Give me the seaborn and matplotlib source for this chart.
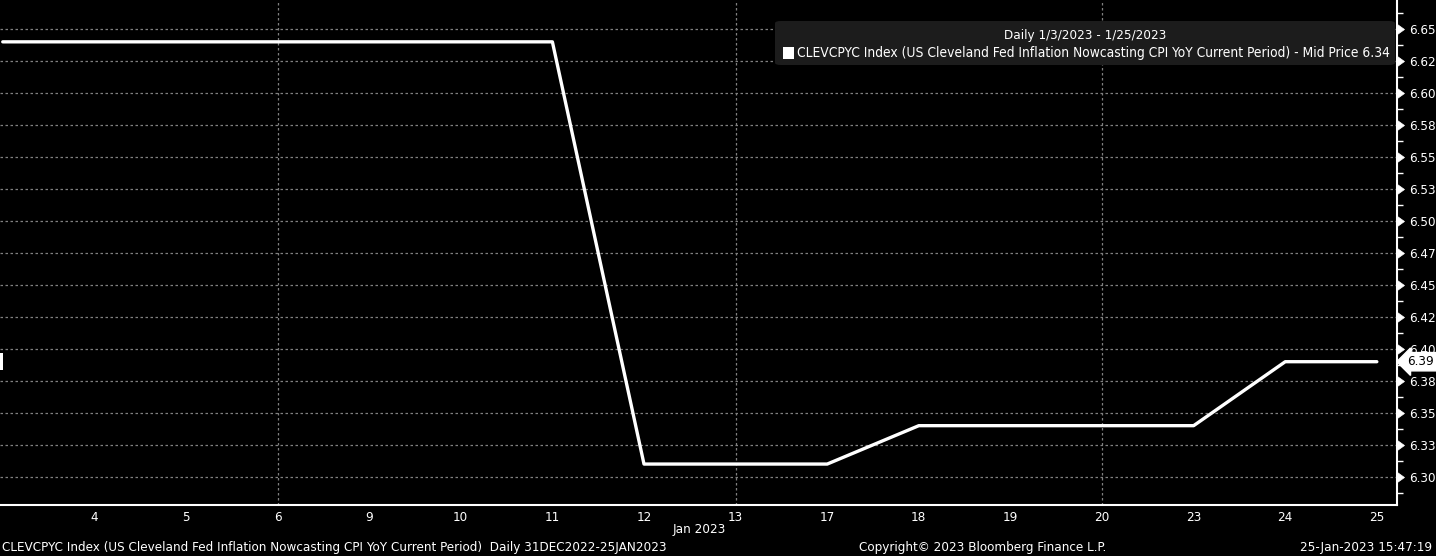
import matplotlib
matplotlib.use("Agg")
import matplotlib.pyplot as plt
import matplotlib.transforms as mtransforms
import seaborn as sns
import pandas as pd
from matplotlib.patches import FancyBboxPatch, Rectangle
from matplotlib.font_manager import fontManager
from matplotlib.markers import CARETRIGHTBASE

days = ["3", "4", "5", "6", "9", "10", "11", "12", "13", "17", "18", "19", "20", "23", "24", "25"]
values = [6.64, 6.64, 6.64, 6.64, 6.64, 6.64, 6.64, 6.31, 6.31, 6.31, 6.34, 6.34, 6.34, 6.34, 6.39, 6.39]
ytick_vals = [6.30, 6.325, 6.35, 6.375, 6.40, 6.425, 6.45, 6.475, 6.50, 6.525, 6.55, 6.575, 6.60, 6.625, 6.65]
ytick_labels = ["6.30", "6.33", "6.35", "6.38", "6.40", "6.42", "6.45", "6.47", "6.50", "6.53", "6.55", "6.58", "6.60", "6.62", "6.65"]
grid_days = ["6", "13", "20"]

footer_left = "CLEVCPYC Index (US Cleveland Fed Inflation Nowcasting CPI YoY Current Period)  Daily 31DEC2022-25JAN2023"
legend_txt = "CLEVCPYC Index (US Cleveland Fed Inflation Nowcasting CPI YoY Current Period) - Mid Price 6.34"

sns.set_theme(style="dark")
fnames = [f.fname for f in fontManager.ttflist]
names = {f.name for f in fontManager.ttflist}
if "Liberation Sans Narrow" in names:
    plt.rcParams["font.family"] = ["Liberation Sans Narrow", "DejaVu Sans"]
else:
    plt.rcParams["font.family"] = ["DejaVu Sans"]
    if any("Condensed" in f for f in fnames):
        plt.rcParams["font.stretch"] = "condensed"

fig = plt.figure(figsize=(14.36, 5.56), dpi=100, facecolor="black")

# choose a font size so the footer text spans the same width as in the reference
renderer = fig.canvas.get_renderer()
probe = fig.text(0, 0, footer_left, fontsize=10)
w = probe.get_window_extent(renderer).width
probe.remove()
fs = 10 * 665 / w

df = pd.DataFrame({"pos": range(len(days)), "val": values})

ax = fig.add_axes([0.0, 1 - 505 / 556, 1397 / 1436, 505 / 556])
ax.set_facecolor("black")

sns.lineplot(data=df, x="pos", y="val", ax=ax, color="white", linewidth=2.4)

ax.set_xlim(-0.03, 15.22)
ax.set_ylim(6.278, 6.6727)

ax.set_yticks(ytick_vals)
ax.set_yticklabels(ytick_labels)
ax.yaxis.tick_right()
ax.set_yticks([v + 0.0125 for v in ytick_vals[:-1]] + [ytick_vals[0] - 0.0125, ytick_vals[-1] + 0.0125], minor=True)
ax.tick_params(axis="y", which="major", direction="out", length=7, width=1.2, color="white",
               labelcolor="white", labelsize=fs, pad=1.5, right=True, left=False)
ax.tick_params(axis="y", which="minor", direction="out", length=4, width=1, color="white", right=True, left=False)
for t in ax.yaxis.get_major_ticks():
    t.tick2line.set_marker(CARETRIGHTBASE)
    t.tick2line.set_markersize(6.5)
    t.tick2line.set_markerfacecolor("white")
    t.tick2line.set_markeredgecolor("white")
    t.tick2line.set_markeredgewidth(0.5)

ax.set_xticks(range(1, len(days)))
ax.set_xticklabels(days[1:])
ax.tick_params(axis="x", which="major", direction="in", length=3, width=1, color="white",
               labelcolor="white", labelsize=fs, pad=4)

for y in ytick_vals:
    ax.axhline(y, color="#808080", linestyle=(0, (2, 2)), linewidth=0.9, zorder=0)
for d in grid_days:
    ax.axvline(days.index(d), color="#808080", linestyle=(0, (2, 2)), linewidth=0.9, zorder=0)

for s in ["top", "left"]:
    ax.spines[s].set_visible(False)
for s in ["bottom", "right"]:
    ax.spines[s].set_visible(True)
    ax.spines[s].set_color("white")
    ax.spines[s].set_linewidth(1.5)

ax.set_xlabel("")
ax.set_ylabel("")
ax.grid(False)

# Jan 2023 label
ax.text((days.index("12") + days.index("13")) / 2 + 0.1, -25 / 505, "Jan 2023", transform=ax.get_xaxis_transform(),
        ha="center", va="center", color="white", fontsize=fs)

# last value tag (right)
ax.annotate(f"{values[-1]:.2f}", xy=(1.0, values[-1]), xycoords=("axes fraction", "data"),
            xytext=(7, 0), textcoords="offset points", ha="left", va="center", color="black", fontsize=fs,
            bbox=dict(boxstyle="larrow,pad=0.2", fc="white", ec="white"), annotation_clip=False)
# sliver of the clipped last-value tag on the left edge
blend = mtransforms.blended_transform_factory(ax.transAxes, ax.transData)
ax.add_patch(Rectangle((0.0, values[-1] - 0.0066), 3 / 1397, 0.0132, transform=blend,
                       fc="white", ec="none", clip_on=False, zorder=6))

# legend box
box = FancyBboxPatch((775 / 1436, 1 - 65 / 556), 620 / 1436, 44 / 556, transform=fig.transFigure,
                     boxstyle="round,pad=0,rounding_size=0.004", fc="#1c1c1c", ec="none", zorder=5)
fig.patches.append(box)
fig.text(1085 / 1436, 1 - 36 / 556, "Daily 1/3/2023 - 1/25/2023", ha="center", va="center",
         color="white", fontsize=fs, zorder=6)
fig.patches.append(plt.Rectangle((783 / 1436, 1 - 59 / 556), 11 / 1436, 12 / 556, transform=fig.transFigure,
                                 fc="white", ec="none", zorder=6))
fig.text(797 / 1436, 1 - 53 / 556, legend_txt, ha="left", va="center", color="white", fontsize=fs * 1.03, zorder=6)

# footer
fig.text(2 / 1436, 1 - 547 / 556, footer_left, ha="left", va="center", color="white", fontsize=fs)
fig.text(983 / 1436, 1 - 547 / 556, "Copyright\u00a9 2023 Bloomberg Finance L.P.", ha="center", va="center",
         color="white", fontsize=fs)
fig.text(1432 / 1436, 1 - 547 / 556, "25-Jan-2023 15:47:19", ha="right", va="center", color="white", fontsize=fs)

fig.savefig("out.png", dpi=100, facecolor="black")
